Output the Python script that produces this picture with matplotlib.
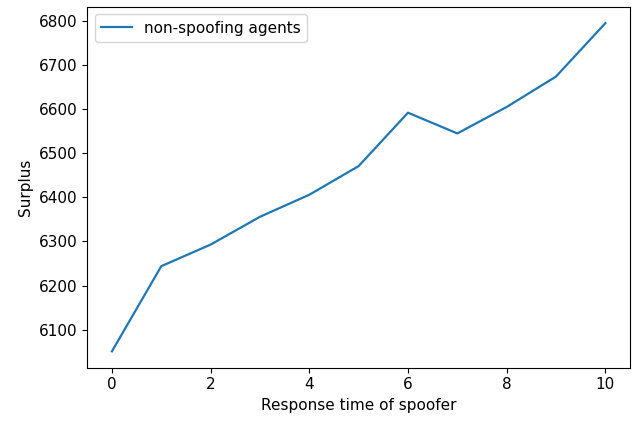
import matplotlib
matplotlib.use("Agg")
import matplotlib.pyplot as plt

# response time of spoofer vs surplus
response_time = [0, 1, 2, 3, 4, 5, 6, 7, 8, 9, 10]
surplus = [6051, 6244, 6293, 6356, 6406, 6471, 6592, 6545, 6605, 6674, 6795]

plt.rcParams['font.size'] = 11

fig = plt.figure(figsize=(6.38, 4.23), dpi=100)
ax = fig.add_axes([0.1368, 0.1307, 0.8507, 0.8533])

ax.plot(response_time, surplus, color='#1f77b4', linewidth=1.6, label='non-spoofing agents')
ax.set_xlabel("Response time of spoofer")
ax.set_ylabel("Surplus")
ax.set_xticks([0, 2, 4, 6, 8, 10])
ax.legend(loc='upper left')

fig.savefig("out.png", dpi=100)
